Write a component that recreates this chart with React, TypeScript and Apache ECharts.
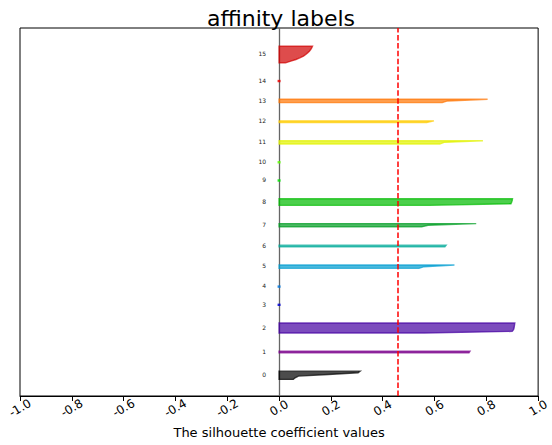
import React, { useEffect, useRef } from 'react';
import * as echarts from 'echarts';

// ---- data ----
const clusterNames = ['0', '1', '2', '3', '4', '5', '6', '7', '8', '9', '10', '11', '12', '13', '14', '15'];

const silhouette0 = [0.055, 0.062, 0.075, 0.19, 0.305, 0.313];
const silhouette1 = [0.733, 0.737];
const silhouette2 = [0.56, 0.9, 0.905, 0.907, 0.908, 0.909, 0.91];
const silhouette3 = [0];
const silhouette4 = [0];
const silhouette5 = [0.54, 0.56, 0.677];
const silhouette6 = [0.64, 0.645];
const silhouette7 = [0.55, 0.575, 0.761];
const silhouette8 = [0.58, 0.895, 0.898, 0.9, 0.901];
const silhouette9 = [0];
const silhouette10 = [0];
const silhouette11 = [0.62, 0.637, 0.787];
const silhouette12 = [0.57, 0.598];
const silhouette13 = [0.63, 0.65, 0.805];
const silhouette14 = [0];
const silhouette15 = [0.025, 0.045, 0.065, 0.08, 0.094, 0.103, 0.11, 0.117, 0.122, 0.126, 0.129];

const clusterValues = [
  silhouette0, silhouette1, silhouette2, silhouette3, silhouette4, silhouette5, silhouette6, silhouette7,
  silhouette8, silhouette9, silhouette10, silhouette11, silhouette12, silhouette13, silhouette14, silhouette15,
];

const averageScore = 0.461;
const xTickLabels = ['-1.0', '-0.8', '-0.6', '-0.4', '-0.2', '0.0', '0.2', '0.4', '0.6', '0.8', '1.0'];

// nipy_spectral(i / 16)
const clusterColors = [
  '#000000', '#7b008c', '#4400a1', '#0000d0', '#0077dd', '#009dd0', '#00aa99', '#009d22',
  '#00bb00', '#00e500', '#5dff00', '#e1f200', '#ffcc00', '#ff7300', '#ee0000', '#d00000',
];

const titleText = 'affinity labels';
const xAxisTitle = 'The silhouette coefficient values';

const FONT = 'DejaVu Sans';

export default function App() {
  const ref = useRef<HTMLDivElement>(null);

  useEffect(() => {
    if (!ref.current) return;
    const chart = echarts.init(ref.current, null, { renderer: 'svg' });

    const yLower: number[] = [];
    let yCursor = 10;
    clusterValues.forEach((v) => {
      yLower.push(yCursor);
      yCursor += v.length + 10;
    });
    const yMax = yCursor;

    const option: any = {
      animation: false,
      textStyle: { fontFamily: FONT },
      grid: {
        left: 20,
        right: 10.5,
        top: 28,
        bottom: 49,
        show: true,
        borderColor: '#000',
        borderWidth: 1,
        backgroundColor: 'transparent',
      },
      graphic: [
        {
          type: 'text',
          x: 281,
          y: 18,
          style: {
            text: titleText,
            fontSize: 22,
            fontFamily: FONT,
            fill: '#000',
            textAlign: 'center',
            textVerticalAlign: 'middle',
          },
        },
      ],
      xAxis: {
        type: 'value',
        min: -1,
        max: 1,
        interval: 0.2,
        name: xAxisTitle,
        nameLocation: 'middle',
        nameGap: 30,
        nameTextStyle: { fontSize: 13, color: '#000', fontFamily: FONT },
        axisLine: { show: true, lineStyle: { color: '#000', width: 1 } },
        axisTick: { show: true, inside: false, length: 5, lineStyle: { color: '#000', width: 1 } },
        splitLine: { show: false },
        axisLabel: {
          rotate: 30,
          align: 'center',
          verticalAlign: 'middle',
          margin: 12,
          fontSize: 12,
          color: '#000',
          fontFamily: FONT,
          formatter: (v: number) => {
            const idx = Math.round((v + 1) / 0.2);
            return xTickLabels[idx] ?? '';
          },
        },
      },
      yAxis: {
        type: 'value',
        min: 0,
        max: yMax,
        axisLine: { show: false },
        axisTick: { show: false },
        axisLabel: { show: false },
        splitLine: { show: false },
      },
      series: [
        {
          type: 'line',
          data: [],
          silent: true,
          z: 1,
          markLine: {
            z: 1,
            silent: true,
            symbol: ['none', 'none'],
            label: { show: false },
            lineStyle: { color: '#666', width: 1.3, type: 'solid' },
            data: [{ xAxis: 0 }],
          },
        },
        {
          type: 'custom',
          coordinateSystem: 'cartesian2d',
          z: 2,
          silent: true,
          data: clusterValues.map((v, i) => [0, yLower[i], i]),
          encode: { x: 0, y: 1 },
          renderItem: (params: any, api: any) => {
            const i = params.dataIndex;
            const vals = clusterValues[i];
            const yl = yLower[i];
            const color = clusterColors[i];
            if (vals.length === 1) {
              const p = api.coord([vals[0], yl]);
              return {
                type: 'rect',
                shape: { x: p[0] - 1.5, y: p[1] - 1.2, width: 3, height: 2.4 },
                style: { fill: color, opacity: 0.85 },
              };
            }
            const pts: number[][] = [];
            vals.forEach((_v, j) => pts.push(api.coord([0, yl + j])));
            for (let j = vals.length - 1; j >= 0; j--) pts.push(api.coord([vals[j], yl + j]));
            return {
              type: 'polygon',
              shape: { points: pts },
              style: { fill: color, stroke: color, lineWidth: 1.4, opacity: 0.7 },
            };
          },
        },
        {
          type: 'custom',
          coordinateSystem: 'cartesian2d',
          z: 3,
          silent: true,
          data: clusterNames.map((n, i) => [-0.05, yLower[i] + 0.5 * clusterValues[i].length, i]),
          encode: { x: 0, y: 1 },
          renderItem: (params: any, api: any) => {
            const p = api.coord([api.value(0), api.value(1)]);
            return {
              type: 'text',
              x: p[0],
              y: p[1],
              style: {
                text: clusterNames[params.dataIndex],
                fontSize: 6,
                fontFamily: FONT,
                fill: '#222',
                textAlign: 'right',
                textVerticalAlign: 'middle',
              },
            };
          },
          markLine: {
            z: 5,
            silent: true,
            symbol: ['none', 'none'],
            label: { show: false },
            lineStyle: { color: '#ff0000', width: 1.5, type: [5.5, 2.4] },
            data: [{ xAxis: averageScore }],
          },
        },
      ],
    };

    chart.setOption(option);
    return () => chart.dispose();
  }, []);

  return (
    <div
      ref={ref}
      style={{ position: 'fixed', left: 0, top: 0, width: 552, height: 445, background: '#fff' }}
    />
  );
}
